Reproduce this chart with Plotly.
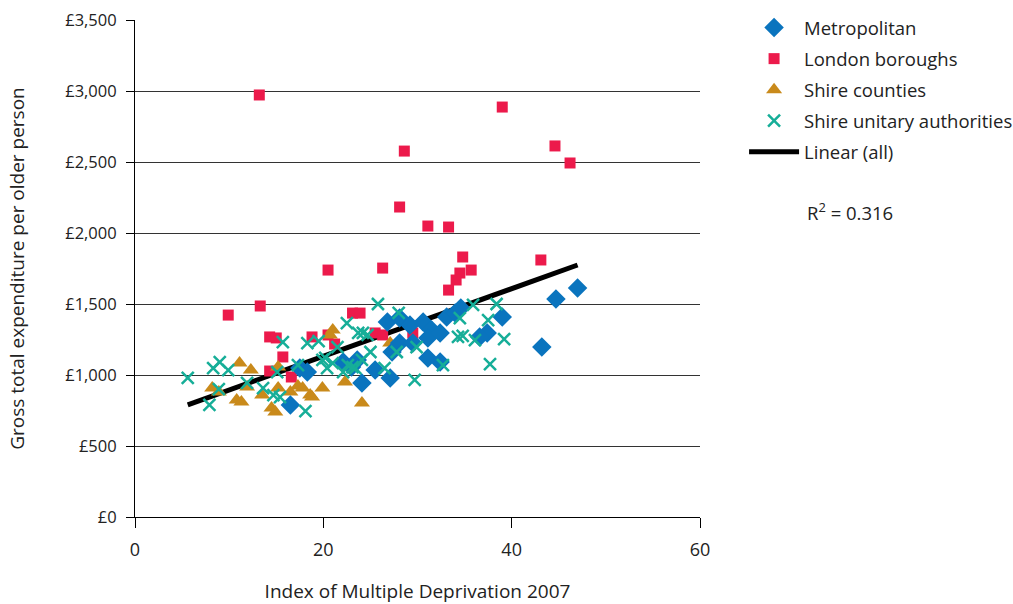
import plotly.graph_objects as go

# Index of Multiple Deprivation 2007 (x) and gross expenditure per older person (y)
metro_imd = [16.5, 17.5, 18.3, 22.1, 23.0, 23.6, 24.1, 25.5, 27.1, 26.8, 28.1, 29.2,
             30.6, 31.5, 31.1, 28.1, 27.3, 31.1, 32.4, 33.1, 34.0, 34.6, 39.0, 37.4,
             36.6, 32.4, 43.2, 44.7, 47.0, 29.5]
metro_exp = [789, 1049, 1021, 1091, 1056, 1106, 944, 1035, 979, 1373, 1401, 1352,
             1373, 1317, 1260, 1225, 1162, 1120, 1092, 1408, 1437, 1472, 1408, 1296,
             1268, 1296, 1197, 1535, 1613, 1225]

london_imd = [13.2, 39.0, 44.6, 46.2, 28.6, 28.1, 31.1, 33.3, 20.5, 26.3, 43.1, 34.8,
              35.7, 34.5, 34.1, 33.3, 13.3, 9.9, 23.1, 23.9, 14.3, 15.0, 18.8, 20.5,
              21.2, 25.5, 26.3, 29.5, 15.7, 14.3, 16.6]
london_exp = [2972, 2887, 2613, 2493, 2577, 2183, 2049, 2042, 1739, 1753, 1810, 1831,
              1739, 1718, 1669, 1598, 1486, 1422, 1436, 1436, 1268, 1261, 1268, 1282,
              1218, 1296, 1282, 1296, 1127, 1028, 986]

county_imd = [8.2, 8.9, 11.1, 12.3, 10.8, 11.3, 11.9, 13.5, 14.5, 14.9, 15.2, 15.2,
              16.5, 17.3, 17.8, 18.6, 18.8, 19.9, 21.0, 22.3, 24.1, 27.1, 20.7]
county_exp = [908, 880, 1084, 1035, 824, 810, 915, 859, 768, 740, 1056, 908,
              880, 922, 908, 859, 845, 908, 1317, 951, 803, 1225, 1282]

unitary_imd = [5.6, 7.9, 9.0, 8.3, 9.9, 8.9, 11.9, 13.6, 14.7, 15.4, 15.1, 15.7,
               17.3, 18.1, 18.3, 19.5, 20.4, 19.9, 22.5, 21.5, 20.2, 22.1, 22.6, 23.4,
               24.1, 23.7, 25.8, 28.0, 24.2, 24.7, 29.9, 25.0, 23.1, 26.5, 27.8, 29.7,
               32.7, 34.3, 35.9, 38.4, 34.5, 37.5, 34.8, 36.1, 39.2, 37.7, 21.0]
unitary_exp = [979, 789, 1091, 1049, 1035, 901, 944, 908, 859, 845, 1021, 1232,
               1070, 746, 1225, 1239, 1049, 1106, 1366, 1197, 1120, 1021, 1070, 1049,
               1106, 1296, 1500, 1437, 1296, 1282, 1197, 1162, 1056, 1049, 1162, 965,
               1070, 1268, 1493, 1500, 1401, 1387, 1275, 1246, 1253, 1077, 1084]

# fitted linear trend across all authorities
trend_slope = 23.8
trend_intercept = 656
r_squared_label = "R<sup>2</sup> = 0.316"

y_ticks = [0, 500, 1000, 1500, 2000, 2500, 3000, 3500]
y_tick_text = ["£{:,}".format(v) for v in y_ticks]
x_ticks = [0, 20, 40, 60]

BLUE = "#0A74BE"
RED = "#EC1A4B"
GOLD = "#C98A1B"
TEAL = "#16AE98"
FONT = "Open Sans"
INK = "#222"

all_x = metro_imd + london_imd + county_imd + unitary_imd
line_x = [min(all_x), max(all_x)]
line_y = [trend_slope * v + trend_intercept for v in line_x]

fig = go.Figure()
fig.add_trace(go.Scatter(
    x=line_x, y=line_y, mode="lines", name="Linear (all)",
    line=dict(color="black", width=5), legendrank=5, legendgroup="e"))
fig.add_trace(go.Scatter(
    x=london_imd, y=london_exp, mode="markers", name="London boroughs",
    marker=dict(symbol="square", size=11, color=RED), legendrank=2, legendgroup="b"))
fig.add_trace(go.Scatter(
    x=county_imd, y=county_exp, mode="markers", name="Shire counties",
    marker=dict(symbol="triangle-up", size=14, color=GOLD), legendrank=3, legendgroup="c"))
fig.add_trace(go.Scatter(
    x=metro_imd, y=metro_exp, mode="markers", name="Metropolitan",
    marker=dict(symbol="diamond", size=15, color=BLUE), legendrank=1, legendgroup="a"))
fig.add_trace(go.Scatter(
    x=unitary_imd, y=unitary_exp, mode="markers", name="Shire unitary authorities",
    marker=dict(symbol="x-thin", size=12, color=TEAL, line=dict(color=TEAL, width=2.5)),
    legendrank=4, legendgroup="d"))

fig.update_layout(
    width=1013, height=604,
    margin=dict(l=135, r=313, t=20, b=87, autoexpand=False),
    paper_bgcolor="white", plot_bgcolor="white",
    font=dict(family=FONT, size=16, color=INK),
    showlegend=True,
    legend=dict(x=1.078, y=1.022, xanchor="left", yanchor="top",
                font=dict(family=FONT, size=18.5, color=INK),
                itemwidth=50, traceorder="grouped", tracegroupgap=4,
                bgcolor="rgba(0,0,0,0)"),
    annotations=[dict(text=r_squared_label, xref="paper", yref="paper",
                      x=1.186, y=0.614, xanchor="left", yanchor="middle",
                      showarrow=False, font=dict(family=FONT, size=18.5, color=INK))],
)
fig.update_xaxes(
    range=[0, 60], tickvals=x_ticks, showgrid=False, zeroline=False,
    showline=True, linecolor="black", linewidth=1,
    ticks="outside", ticklen=10, tickcolor="black", ticklabelstandoff=6,
    tickfont=dict(size=18),
    title=dict(text="Index of Multiple Deprivation 2007", standoff=26),
)
fig.update_yaxes(
    range=[0, 3500], tickvals=y_ticks, ticktext=y_tick_text,
    showgrid=True, gridcolor="#333", gridwidth=1, zeroline=False,
    showline=True, linecolor="black", linewidth=1,
    ticks="outside", ticklen=8, tickcolor="black", ticklabelstandoff=6,
    tickfont=dict(size=16.5),
    title=dict(text="Gross total expenditure per older person", standoff=35),
)

fig.write_html("out.html")
